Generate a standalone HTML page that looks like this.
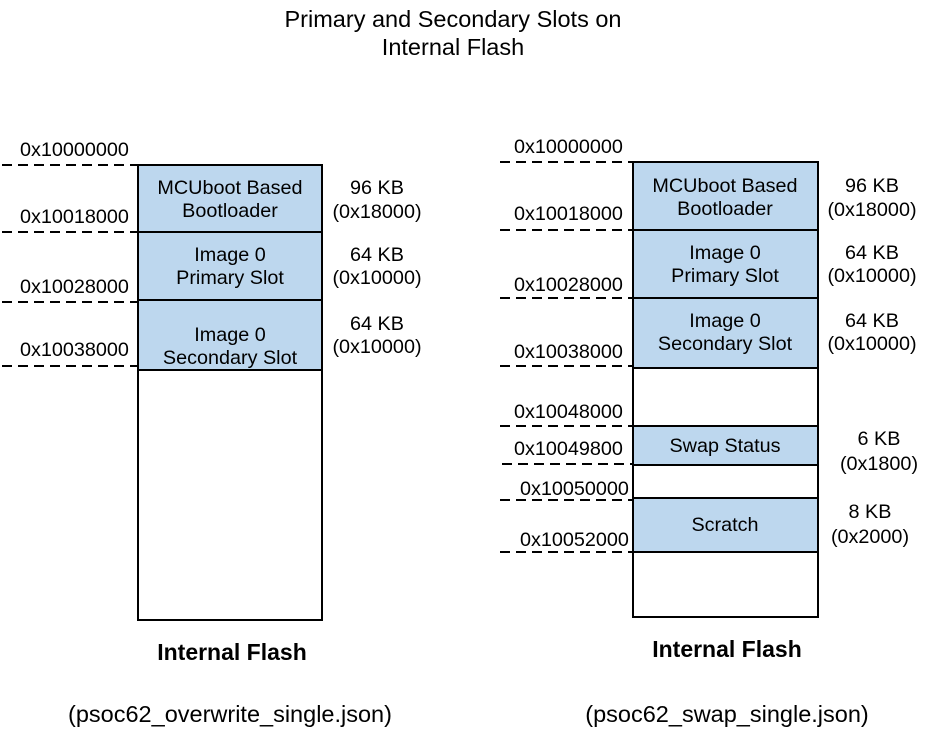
<!DOCTYPE html>
<html><head><meta charset="utf-8"><style>
body{margin:0;background:#fff}
svg text{font-family:"Liberation Sans",Arial,sans-serif;fill:#000}
</style></head><body>
<svg width="930" height="740" viewBox="0 0 930 740" xmlns="http://www.w3.org/2000/svg" font-size="19.8">
<text x="453" y="27" text-anchor="middle" font-size="23.5">Primary and Secondary Slots on</text>
<text x="453" y="55" text-anchor="middle" font-size="23.5">Internal Flash</text>
<g stroke="#000" stroke-width="2">
<rect x="138" y="165" width="184" height="455" fill="#fff"/>
<rect x="138" y="165" width="184" height="67" fill="#bdd7ee"/>
<rect x="138" y="232" width="184" height="68" fill="#bdd7ee"/>
<rect x="138" y="300" width="184" height="70" fill="#bdd7ee"/>
<rect x="633" y="162" width="185" height="455" fill="#fff"/>
<rect x="633" y="162" width="185" height="68" fill="#bdd7ee"/>
<rect x="633" y="230" width="185" height="68" fill="#bdd7ee"/>
<rect x="633" y="298" width="185" height="70" fill="#bdd7ee"/>
<rect x="633" y="426" width="185" height="39" fill="#bdd7ee"/>
<rect x="633" y="498" width="185" height="54" fill="#bdd7ee"/>
</g>
<g stroke="#000" stroke-width="2" stroke-dasharray="10,6">
<line x1="2" y1="165" x2="138" y2="165"/>
<line x1="2" y1="232" x2="138" y2="232"/>
<line x1="2" y1="302" x2="138" y2="302"/>
<line x1="2" y1="366" x2="138" y2="366"/>
<line x1="500" y1="162" x2="633" y2="162"/>
<line x1="500" y1="230" x2="633" y2="230"/>
<line x1="500" y1="298" x2="633" y2="298"/>
<line x1="500" y1="366" x2="633" y2="366"/>
<line x1="500" y1="426" x2="633" y2="426"/>
<line x1="502" y1="464" x2="633" y2="464"/>
<line x1="500" y1="500" x2="633" y2="500"/>
<line x1="500" y1="552" x2="633" y2="552"/>
</g>
<g>
<text x="20" y="156">0x10000000</text>
<text x="20" y="223">0x10018000</text>
<text x="20" y="293">0x10028000</text>
<text x="20" y="356">0x10038000</text>
<text x="230" y="194" text-anchor="middle">MCUboot Based</text>
<text x="230" y="217" text-anchor="middle">Bootloader</text>
<text x="230" y="261" text-anchor="middle">Image 0</text>
<text x="230" y="284" text-anchor="middle">Primary Slot</text>
<text x="230" y="341" text-anchor="middle">Image 0</text>
<text x="230" y="364" text-anchor="middle">Secondary Slot</text>
<text x="377" y="194" text-anchor="middle">96 KB</text>
<text x="377" y="218" text-anchor="middle">(0x18000)</text>
<text x="377" y="261" text-anchor="middle">64 KB</text>
<text x="377" y="284" text-anchor="middle">(0x10000)</text>
<text x="377" y="330" text-anchor="middle">64 KB</text>
<text x="377" y="353" text-anchor="middle">(0x10000)</text>
<text x="232" y="660" text-anchor="middle" font-weight="bold" font-size="23">Internal Flash</text>
<text x="230" y="722" text-anchor="middle" font-size="23.5">(psoc62_overwrite_single.json)</text>

<text x="514" y="153">0x10000000</text>
<text x="514" y="220">0x10018000</text>
<text x="514" y="291">0x10028000</text>
<text x="514" y="358">0x10038000</text>
<text x="514" y="418">0x10048000</text>
<text x="514" y="455">0x10049800</text>
<text x="520" y="495">0x10050000</text>
<text x="520" y="546">0x10052000</text>
<text x="725" y="192" text-anchor="middle">MCUboot Based</text>
<text x="725" y="215" text-anchor="middle">Bootloader</text>
<text x="725" y="259" text-anchor="middle">Image 0</text>
<text x="725" y="282" text-anchor="middle">Primary Slot</text>
<text x="725" y="327" text-anchor="middle">Image 0</text>
<text x="725" y="350" text-anchor="middle">Secondary Slot</text>
<text x="725" y="452" text-anchor="middle">Swap Status</text>
<text x="725" y="531" text-anchor="middle">Scratch</text>
<text x="872" y="192" text-anchor="middle">96 KB</text>
<text x="872" y="216" text-anchor="middle">(0x18000)</text>
<text x="872" y="259" text-anchor="middle">64 KB</text>
<text x="872" y="282" text-anchor="middle">(0x10000)</text>
<text x="872" y="327" text-anchor="middle">64 KB</text>
<text x="872" y="350" text-anchor="middle">(0x10000)</text>
<text x="879" y="445" text-anchor="middle">6 KB</text>
<text x="879" y="470" text-anchor="middle">(0x1800)</text>
<text x="870" y="518" text-anchor="middle">8 KB</text>
<text x="870" y="543" text-anchor="middle">(0x2000)</text>
<text x="727" y="657" text-anchor="middle" font-weight="bold" font-size="23">Internal Flash</text>
<text x="727" y="722" text-anchor="middle" font-size="23.5">(psoc62_swap_single.json)</text>
</g>
</svg>
</body></html>
